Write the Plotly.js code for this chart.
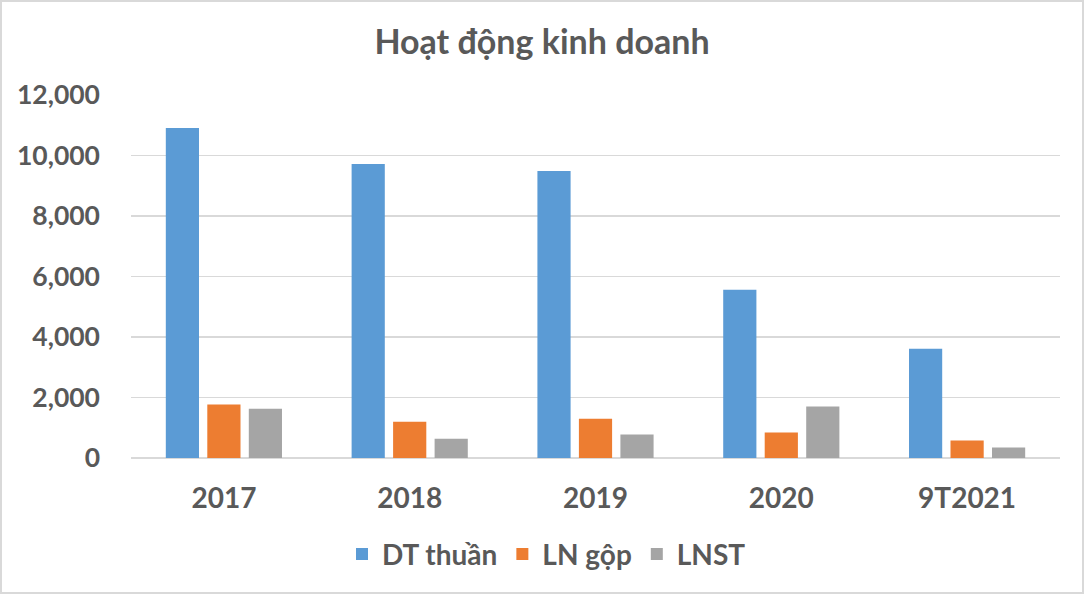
<!DOCTYPE html>
<html>
<head>
<meta charset="utf-8">
<script src="https://cdn.plot.ly/plotly-3.0.1.min.js"></script>
<style>
  html, body { margin: 0; padding: 0; background: #fff; }
  #wrap { position: relative; width: 1084px; height: 594px; }
  #chart { width: 1084px; height: 594px; }
  #border { position: absolute; left: 0; top: 0; width: 1084px; height: 594px; box-sizing: border-box; border: 2px solid #d9d9d9; pointer-events: none; }
</style>
</head>
<body>
<div id="wrap"><div id="chart"></div><div id="border"></div></div>
<script>
const categories = ['2017', '2018', '2019', '2020', '9T2021'];
const dtThuan = [10910, 9720, 9490, 5560, 3615];
const lnGop = [1770, 1200, 1300, 840, 580];
const lnst = [1630, 640, 780, 1700, 350];
const seriesNames = ['DT thuần', 'LN gộp', 'LNST'];
const tickVals = [0, 2000, 4000, 6000, 8000, 10000, 12000];
const tickText = ['0', '2,000', '4,000', '6,000', '8,000', '10,000', '12,000'];

const FONT = 'Lato, "Open Sans", "Noto Sans", sans-serif';
const TXT = '#595959';
const colors = ['#5B9BD5', '#ED7D31', '#A5A5A5'];

const traces = [dtThuan, lnGop, lnst].map((vals, i) => ({
  type: 'bar',
  name: seriesNames[i],
  x: categories,
  y: vals,
  marker: { color: colors[i] },
  hoverinfo: 'x+y+name'
}));

const layout = {
  width: 1084,
  height: 594,
  paper_bgcolor: '#ffffff',
  plot_bgcolor: '#ffffff',
  margin: { l: 131, r: 24, t: 95, b: 135.5, autoexpand: false },
  font: { family: FONT, color: TXT, size: 26 },
  title: {
    text: '<b>Hoạt động kinh doanh</b>',
    font: { family: FONT, size: 34, color: TXT },
    x: 0.5, xref: 'container', xanchor: 'center',
    y: 1 - 42 / 594, yref: 'container', yanchor: 'middle'
  },
  barmode: 'group',
  bargap: 0.33,
  bargroupgap: 0.2,
  xaxis: {
    type: 'category',
    showgrid: false,
    showline: false,
    zeroline: false,
    ticks: '',
    tickangle: 0,
    automargin: false,
    tickfont: { family: FONT, size: 28, color: TXT, weight: 'bold' },
    ticklabelstandoff: 21
  },
  yaxis: {
    range: [0, 12000],
    tickvals: tickVals,
    ticktext: tickText,
    showgrid: true,
    gridcolor: '#d9d9d9',
    gridwidth: 1.5,
    zeroline: true,
    zerolinecolor: '#d9d9d9',
    zerolinewidth: 1.5,
    showline: false,
    ticks: '',
    automargin: false,
    tickfont: { family: FONT, size: 26.5, color: TXT, weight: 'bold' },
    ticklabelstandoff: 30,
    fixedrange: true
  },
  showlegend: true,
  legend: {
    orientation: 'h',
    x: (546.5 - 131) / 929, xanchor: 'center',
    y: -0.265, yanchor: 'middle',
    font: { family: FONT, size: 28, color: TXT, weight: 'bold' },
    traceorder: 'normal'
  }
};

Plotly.newPlot('chart', traces, layout, { displayModeBar: false, staticPlot: true });
</script>
</body>
</html>
